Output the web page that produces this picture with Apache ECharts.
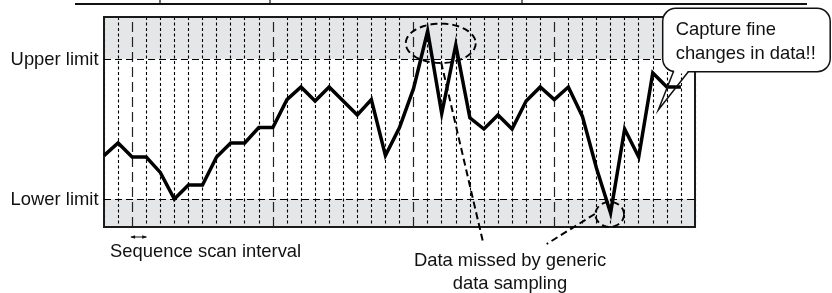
<!DOCTYPE html>
<html lang="en" style="height: 100%">
<head>
    <meta charset="UTF-8">
</head>
<body style="height: 100%; margin: 0; background: #fff">
  <div id="container" style="width: 832px; height: 293px"></div>

  <script type="text/javascript" src="https://fastly.jsdelivr.net/npm/echarts@6/dist/echarts.min.js"></script>

  <script type="text/javascript">
    var dom = document.getElementById('container');
    var myChart = echarts.init(dom, null, { renderer: 'canvas' });

    // one category per sequence scan step (0..42)
    var steps = [];
    for (var s = 0; s <= 42; s++) steps.push(String(s));

    // measured value per scan, lower limit = 0, upper limit = 100
    var values = [31, 40, 30, 30, 19, 0, 10, 10, 30, 40, 40, 51, 51, 71, 80, 70, 80, 70, 60, 71,
      31, 51, 79, 120, 61, 110, 58, 50, 60, 50, 70, 80, 71, 80, 59, 22, -10, 50, 30, 90, 80, 80];

    var limits = { lower: 0, upper: 100 };
    var yRange = [-20, 130];
    // steps where the generic (coarse) sampling happens
    var sampleSteps = ['2', '12', '22', '32'];

    var FONT = 'Liberation Sans, Arial, sans-serif';

    var option = {
      animation: false,
      backgroundColor: '#fff',
      grid: {
        left: 104, top: 17, width: 591, height: 210,
        show: true, borderColor: '#1a1a1a', borderWidth: 2, z: 4
      },
      xAxis: {
        type: 'category', data: steps, boundaryGap: false, z: 2,
        axisLine: { show: false }, axisTick: { show: false }, axisLabel: { show: false },
        splitLine: {
          show: true,
          interval: function (idx) { return sampleSteps.indexOf(String(idx)) < 0; },
          lineStyle: { color: '#000', width: 1.1, type: [3, 2.5] }
        }
      },
      yAxis: {
        type: 'value', min: yRange[0], max: yRange[1],
        axisLine: { show: false }, axisTick: { show: false }, axisLabel: { show: false },
        splitLine: { show: false }
      },
      series: [
        {
          // shaded out-of-limit bands
          type: 'line', data: [], z: 1, silent: true,
          markArea: {
            silent: true,
            itemStyle: { color: '#e5e6e8' },
            data: [
              [{ yAxis: limits.upper }, { yAxis: yRange[1] }],
              [{ yAxis: yRange[0] }, { yAxis: limits.lower }]
            ]
          }
        },
        {
          type: 'line', data: [], z: 3, silent: true,
          markLine: {
            silent: true, symbol: 'none', label: { show: false },
            data: sampleSteps.map(function (c) {
              return { xAxis: c, lineStyle: { color: '#222', width: 1.2, type: [10, 5] } };
            }).concat([
              { yAxis: limits.upper, lineStyle: { color: '#000', width: 1.2, type: [7, 4] } },
              { yAxis: limits.lower, lineStyle: { color: '#000', width: 1.2, type: [7, 4] } }
            ])
          }
        },
        {
          type: 'line', data: values, z: 5,
          symbol: 'none',
          lineStyle: { color: '#000', width: 3.5, join: 'miter' }
        }
      ]
    };

    myChart.setOption(option);

    function toPx(i, v) {
      var i0 = Math.floor(i), f = i - i0;
      var a = myChart.convertToPixel({ gridIndex: 0 }, [i0, v]);
      var b = myChart.convertToPixel({ gridIndex: 0 }, [i0 + 1, v]);
      return [a[0] + f * (b[0] - a[0]), a[1]];
    }

    function ellipse(c, rx, ry) {
      var pts = [];
      for (var k = 0; k < 48; k++) {
        var t = k / 48 * Math.PI * 2;
        pts.push([c[0] + rx * Math.cos(t), c[1] + ry * Math.sin(t)]);
      }
      return {
        type: 'polygon', z: 20, silent: true,
        shape: { points: pts },
        style: { fill: null, stroke: '#000', lineWidth: 1.9, lineDash: [7, 4] }
      };
    }

    var peak = toPx(23.93, 111.2);
    var dip = toPx(35.94, -11);
    var p1 = toPx(23.96, 97.6);
    var p2 = toPx(34.88, -10.7);
    var a0 = toPx(2, 0)[0], a1 = toPx(3, 0)[0];

    var textStyle = { fill: '#111', fontFamily: FONT, fontSize: 18.4 };
    function label(x, y, text, align) {
      return {
        type: 'text', x: x, y: y, z: 30, silent: true,
        style: Object.assign({ text: text, align: align || 'left', verticalAlign: 'middle' }, textStyle)
      };
    }

    myChart.setOption({
      graphic: [
        // rule at the very top
        { type: 'line', z: 20, shape: { x1: 75, y1: 4, x2: 807, y2: 4 }, style: { stroke: '#111', lineWidth: 2 } },
        { type: 'line', z: 20, shape: { x1: 160, y1: 0, x2: 160, y2: 4 }, style: { stroke: '#111', lineWidth: 1.2 } },
        { type: 'line', z: 20, shape: { x1: 270, y1: 0, x2: 270, y2: 4 }, style: { stroke: '#111', lineWidth: 1.2 } },
        { type: 'line', z: 20, shape: { x1: 522, y1: 0, x2: 522, y2: 4 }, style: { stroke: '#111', lineWidth: 1.2 } },

        label(98.5, 59.5, 'Upper limit', 'right'),
        label(98.5, 200, 'Lower limit', 'right'),
        label(110, 252, 'Sequence scan interval'),
        label(510, 261, 'Data missed by generic', 'center'),
        label(510, 284, 'data sampling', 'center'),

        // scan interval arrow
        { type: 'line', z: 20, shape: { x1: a0 - 1, y1: 237, x2: a1, y2: 237 }, style: { stroke: '#111', lineWidth: 1 } },
        { type: 'polygon', z: 20, shape: { points: [[a0 - 2, 237], [a0 + 3, 235.2], [a0 + 3, 238.8]] }, style: { fill: '#111' } },
        { type: 'polygon', z: 20, shape: { points: [[a1 + 1, 237], [a1 - 4, 235.2], [a1 - 4, 238.8]] }, style: { fill: '#111' } },

        // missed samples
        ellipse(peak, 35, 19.7),
        ellipse(dip, 14.3, 12.5),
        { type: 'line', z: 20, shape: { x1: p1[0], y1: p1[1], x2: 483.3, y2: 243.3 }, style: { stroke: '#000', lineWidth: 2, lineDash: [7, 4] } },
        { type: 'line', z: 20, shape: { x1: p2[0], y1: p2[1], x2: 546.7, y2: 244 }, style: { stroke: '#000', lineWidth: 2, lineDash: [7, 4] } },

        // callout
        { type: 'rect', z: 40, shape: { x: 662.7, y: 8.3, width: 167.5, height: 63.4, r: 13 }, style: { fill: '#fff', stroke: '#111', lineWidth: 1.5 } },
        { type: 'rect', z: 41, shape: { x: 674.2, y: 69.5, width: 13.4, height: 4 }, style: { fill: '#fff' } },
        { type: 'polyline', z: 42, shape: { points: [[673.4, 71.7], [658.3, 110], [688.3, 71.7]] }, style: { fill: null, stroke: '#111', lineWidth: 1.5, lineJoin: 'miter' } },
        {
          type: 'text', x: 675.7, y: 29.5, z: 43, silent: true,
          style: Object.assign({ text: 'Capture fine', verticalAlign: 'middle' }, textStyle)
        },
        {
          type: 'text', x: 675.7, y: 53.5, z: 43, silent: true,
          style: Object.assign({ text: 'changes in data!!', verticalAlign: 'middle' }, textStyle)
        }
      ]
    });

    window.addEventListener('resize', myChart.resize);
  </script>
</body>
</html>
